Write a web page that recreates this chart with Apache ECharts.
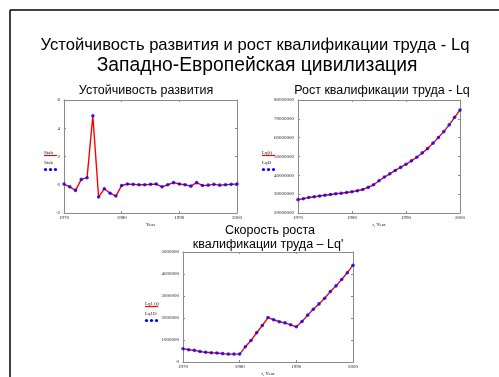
<!DOCTYPE html>
<html>
<head>
<meta charset="utf-8">
<script src="https://cdn.jsdelivr.net/npm/echarts@6/dist/echarts.min.js"></script>
<style>
  html, body { margin: 0; padding: 0; background: #ffffff; }
  #chart { width: 499px; height: 377px; }
</style>
</head>
<body>
<div id="chart"></div>
<script>
// Years 1970..2000
const years = [1970, 1971, 1972, 1973, 1974, 1975, 1976, 1977, 1978, 1979,
               1980, 1981, 1982, 1983, 1984, 1985, 1986, 1987, 1988, 1989,
               1990, 1991, 1992, 1993, 1994, 1995, 1996, 1997, 1998, 1999, 2000];

// Development stability index
const stab = [0.05, -0.15, -0.4, 0.38, 0.5, 4.88, -0.87, -0.28, -0.6, -0.8,
              -0.05, 0.05, 0.03, 0.0, 0.0, 0.03, 0.05, -0.15, 0.0, 0.15,
              0.05, 0.0, -0.1, 0.15, -0.05, -0.03, 0.03, -0.03, 0.0, 0.03, 0.05];

// Labour qualification Lq(t)
const lq = [27.1e6, 27.6e6, 28.2e6, 28.6e6, 29.0e6, 29.4e6, 29.8e6, 30.2e6, 30.5e6, 30.9e6,
            31.3e6, 31.8e6, 32.5e6, 33.6e6, 35.0e6, 37.1e6, 39.1e6, 40.8e6, 42.6e6, 44.2e6,
            45.9e6, 47.7e6, 49.6e6, 51.9e6, 54.2e6, 57.1e6, 60.1e6, 63.2e6, 66.8e6, 70.8e6, 74.7e6];

// Growth rate of labour qualification Lq'(t)
const lq1 = [0.60e6, 0.56e6, 0.53e6, 0.48e6, 0.44e6, 0.42e6, 0.41e6, 0.38e6, 0.36e6, 0.36e6,
             0.36e6, 0.69e6, 0.98e6, 1.33e6, 1.66e6, 2.02e6, 1.92e6, 1.83e6, 1.78e6, 1.69e6,
             1.60e6, 1.84e6, 2.13e6, 2.40e6, 2.64e6, 2.90e6, 3.20e6, 3.46e6, 3.75e6, 4.06e6, 4.40e6];

// Axis ranges and tick steps
const stabTicks = { min: -2, max: 6, interval: 2 };
const lqTicks = { min: 20000000, max: 80000000, interval: 10000000 };
const lq1Ticks = { min: 0, max: 5000000, interval: 1000000 };
const yearTicks = { min: 1970, max: 2000, interval: 10 };

const pairs = (vals) => years.map((y, i) => [y, vals[i]]);

const SANS = '"Liberation Sans", Arial, sans-serif';
const SERIF = '"Liberation Serif", "Times New Roman", serif';
const AXIS_GRAY = '#8a8a8a';

const grids = [
  { left: 64, top: 100, width: 173, height: 113 },
  { left: 298, top: 100, width: 162, height: 113 },
  { left: 183, top: 252, width: 170, height: 110 }
];

const axisLineStyle = { show: true, onZero: false, lineStyle: { color: AXIS_GRAY, width: 1 } };
const axisTickStyle = { show: true, inside: true, length: 2, lineStyle: { color: AXIS_GRAY } };

function xAxes(gridIndex, name) {
  const common = {
    type: 'value', gridIndex,
    min: yearTicks.min, max: yearTicks.max, interval: yearTicks.interval,
    splitLine: { show: false },
    axisLine: axisLineStyle,
    axisTick: axisTickStyle
  };
  return [
    Object.assign({}, common, {
      position: 'bottom',
      name, nameLocation: 'middle', nameGap: 9,
      nameTextStyle: { fontFamily: SERIF, fontSize: 5, color: '#222' },
      axisLabel: { fontFamily: SERIF, fontSize: 5, color: '#222', margin: 2,
                   formatter: (v) => String(v) }
    }),
    Object.assign({}, common, { position: 'top', axisLabel: { show: false } })
  ];
}

function yAxes(gridIndex, t) {
  const common = {
    type: 'value', gridIndex,
    min: t.min, max: t.max, interval: t.interval,
    splitLine: { show: false },
    axisLine: axisLineStyle,
    axisTick: axisTickStyle
  };
  return [
    Object.assign({}, common, {
      position: 'left',
      axisLabel: { fontFamily: SERIF, fontSize: 5, color: '#222', margin: 4,
                   formatter: (v) => String(v) }
    }),
    Object.assign({}, common, { position: 'right', axisLabel: { show: false } })
  ];
}

function pairSeries(idx, vals) {
  return [
    {
      type: 'line', xAxisIndex: idx * 2, yAxisIndex: idx * 2,
      data: pairs(vals), symbol: 'none', silent: true,
      lineStyle: { color: '#ff0000', width: 1.4 }, z: 2
    },
    {
      type: 'scatter', xAxisIndex: idx * 2, yAxisIndex: idx * 2,
      data: pairs(vals), symbol: 'circle', symbolSize: 3.6, silent: true,
      itemStyle: { color: '#0000ff' }, z: 3
    }
  ];
}

// Centered heading text
function heading(txt, cx, cy, size) {
  return {
    type: 'text', x: cx, y: cy,
    style: { text: txt, fontFamily: SANS, fontSize: size, fill: '#000',
             align: 'center', verticalAlign: 'middle' }
  };
}

// Small left-side legend: name + red line, name + blue dots
function legendBlock(x, y, lineName, dotName) {
  const t = (txt, yy) => ({
    type: 'text', left: x, top: yy,
    style: { text: txt, fontFamily: SERIF, fontSize: 5, fill: '#222' }
  });
  const dots = [0, 5, 10].map((dx) => ({
    type: 'circle', shape: { cx: x + 1.5 + dx, cy: y + 15.5, r: 1.6 },
    style: { fill: '#0000ff' }
  }));
  return [
    t(lineName, y - 4),
    { type: 'line', shape: { x1: x, y1: y + 1.5, x2: x + 13, y2: y + 1.5 },
      style: { stroke: '#ff0000', lineWidth: 1.2 } },
    t(dotName, y + 6)
  ].concat(dots);
}

const chart = echarts.init(document.getElementById('chart'), null, { renderer: 'canvas' });

chart.setOption({
  animation: false,
  backgroundColor: '#ffffff',
  grid: grids.map((g) => Object.assign({ show: false }, g)),
  xAxis: [].concat(xAxes(0, 'Year'), xAxes(1, 't, Year'), xAxes(2, 't, Year')),
  yAxis: [].concat(yAxes(0, stabTicks), yAxes(1, lqTicks), yAxes(2, lq1Ticks)),
  series: [].concat(pairSeries(0, stab), pairSeries(1, lq), pairSeries(2, lq1)),
  graphic: [
    // page frame: top and left edges
    { type: 'line', shape: { x1: 10, y1: 10, x2: 499, y2: 10 },
      style: { stroke: '#000', lineWidth: 1.5 } },
    { type: 'line', shape: { x1: 10, y1: 10, x2: 10, y2: 377 },
      style: { stroke: '#000', lineWidth: 1.5 } },
    heading('Устойчивость развития и рост квалификации труда - Lq', 255, 45, 16.6),
    heading('Западно-Европейская цивилизация', 257, 66, 19.3),
    heading('Устойчивость развития', 146, 91, 12.5),
    heading('Рост квалификации труда - Lq', 382, 91, 12.5),
    heading('Скорость роста', 270, 231, 12.5),
    heading('квалификации труда – Lq\'', 268, 245, 12.5)
  ].concat(
    legendBlock(44, 154, 'Stab', 'Stab'),
    legendBlock(262, 154, 'Lq(t)', 'LqD'),
    legendBlock(145, 305, 'Lq1 (t)', 'Lq1D')
  )
});
</script>
</body>
</html>
